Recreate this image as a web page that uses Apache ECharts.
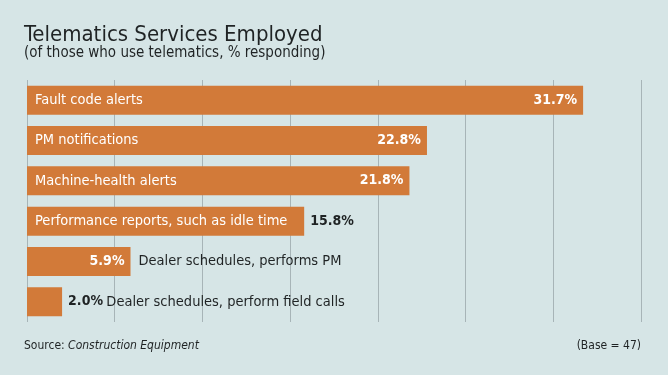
<!DOCTYPE html>
<html><head><meta charset="utf-8">
<script src="https://cdn.jsdelivr.net/npm/echarts@6/dist/echarts.min.js"></script>
<style>html,body{margin:0;padding:0;background:#d6e5e6}#c{width:668px;height:375px}</style>
</head><body><div id="c"></div>
<script>
const categories = ["Fault code alerts","PM notifications","Machine-health alerts","Performance reports, such as idle time","Dealer schedules, performs PM","Dealer schedules, perform field calls"];
const values = [31.7, 22.8, 21.8, 15.8, 5.9, 2.0];
const xTicks = [0,5,10,15,20,25,30,35];

const FONT = '"Liberation Sans Narrow","DejaVu Sans Condensed","Roboto",sans-serif';
const ORANGE = '#d27a39';
const DARK = '#1f2324';
const NAME_SIZE = 14.5;
const VAL_SIZE = 14;

// mode: 0 = name inside-left, value inside-right; 1 = name inside-left, value outside;
// 2 = value inside-right, name outside; 3 = value+name outside
function mode(i){ if(i<3) return 0; if(i===3) return 1; if(i===4) return 2; return 3; }

const mainData = values.map((v,i)=>{
  const m = mode(i);
  let label;
  if(m===0 || m===2) label = {show:true, position:'insideRight', distance:6, formatter: v.toFixed(1)+'%', color:'#fff', fontWeight:'bold', fontSize:VAL_SIZE, fontFamily:FONT};
  else if(m===1) label = {show:true, position:'right', distance:6, formatter: v.toFixed(1)+'%', color:DARK, fontWeight:'bold', fontSize:VAL_SIZE, fontFamily:FONT};
  else label = {show:true, position:'right', distance:6, formatter: '{b|'+v.toFixed(1)+'%} {n|'+categories[i]+'}', rich:{b:{color:DARK,fontWeight:'bold',fontSize:VAL_SIZE,fontFamily:FONT},n:{color:DARK,fontSize:NAME_SIZE,fontFamily:FONT}}};
  return {value:v, label};
});
const nameData = values.map((v,i)=>{
  const m = mode(i);
  let label;
  if(m<=1) label = {show:true, position:'insideLeft', distance:8, formatter: categories[i], color:'#fff', fontSize:NAME_SIZE, fontFamily:FONT};
  else if(m===2) label = {show:true, position:'right', distance:8, formatter: categories[i], color:DARK, fontSize:NAME_SIZE, fontFamily:FONT};
  else label = {show:false};
  return {value:v, label};
});

const chart = echarts.init(document.getElementById('c'), null, {renderer:'canvas'});
chart.setOption({
  backgroundColor:'#d6e5e6',
  animation:false,
  title:[
    {text:'Telematics Services Employed', left:19, top:19, textStyle:{fontFamily:FONT, fontSize:22, fontWeight:'normal', color:DARK}},
    {text:'(of those who use telematics, % responding)', left:19, top:41, textStyle:{fontFamily:FONT, fontSize:15, fontWeight:'normal', color:DARK}},
    {text:'Source: {i|Construction Equipment}', left:19, top:335, textStyle:{fontFamily:FONT, fontSize:12, fontWeight:'normal', color:DARK, rich:{i:{fontFamily:FONT, fontSize:12, fontStyle:'italic', color:DARK}}}},
    {text:'(Base = 47)', right:22, top:335, textStyle:{fontFamily:FONT, fontSize:12, fontWeight:'normal', color:DARK}}
  ],
  grid:{left:27, right:27, top:80, bottom:53, containLabel:false},
  xAxis:{type:'value', min:xTicks[0], max:xTicks[xTicks.length-1], interval:xTicks[1]-xTicks[0],
    axisLine:{show:false}, axisTick:{show:false}, axisLabel:{show:false},
    splitLine:{show:true, lineStyle:{color:'#a7b4b7', width:1}}},
  yAxis:{type:'category', data:categories, inverse:true, axisLine:{show:false}, axisTick:{show:false}, axisLabel:{show:false}, splitLine:{show:false}},
  series:[
    {type:'bar', data:mainData, barWidth:29, itemStyle:{color:ORANGE}, z:2},
    {type:'bar', data:nameData, barWidth:29, barGap:'-100%', itemStyle:{color:'rgba(0,0,0,0)'}, z:3, silent:true}
  ]
});
</script></body></html>
